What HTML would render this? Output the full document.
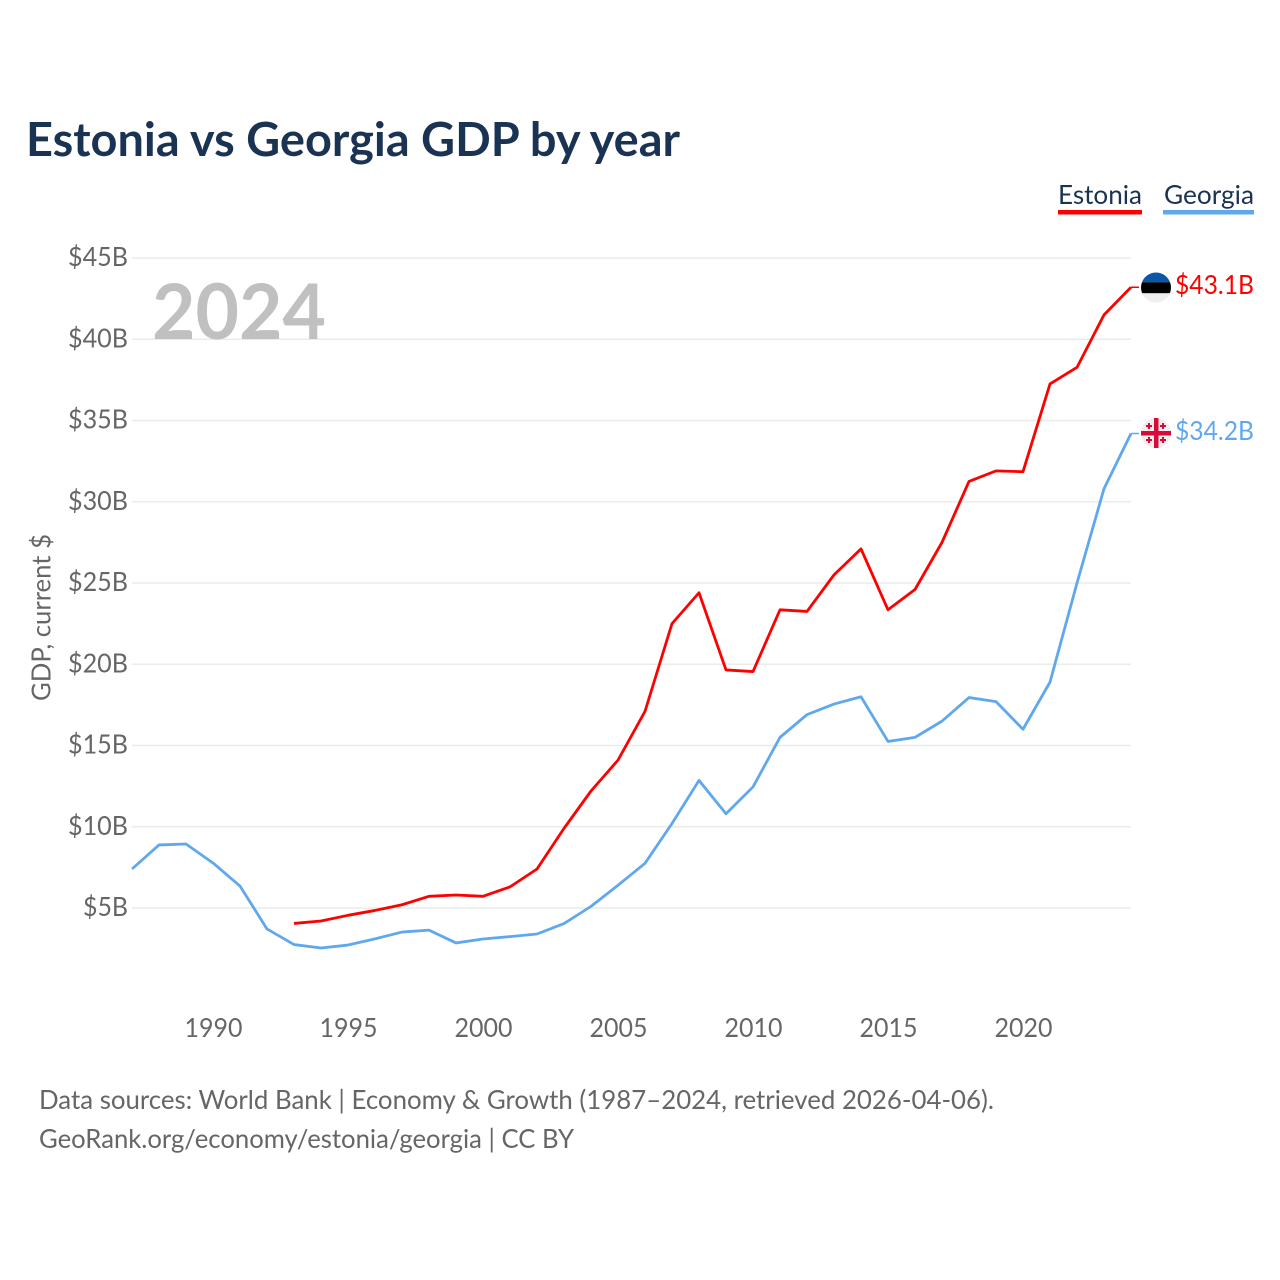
<!DOCTYPE html>
<html>
<head>
<meta charset="utf-8">
<title>Estonia vs Georgia GDP by year</title>
<style>
html,body{margin:0;padding:0;background:#fff}
svg{display:block;font-family:"Lato","Carlito","Liberation Sans",sans-serif}
</style>
</head>
<body>
<svg id="chart" width="1280" height="1280" viewBox="0 0 1280 1280" xmlns="http://www.w3.org/2000/svg">
<rect width="1280" height="1280" fill="#fff"/>
<text x="26" y="156" font-size="47" font-weight="700" fill="#1a3353" textLength="654" lengthAdjust="spacingAndGlyphs">Estonia vs Georgia GDP by year</text>
<g id="grid"></g>
<text x="152" y="339" font-size="77" font-weight="700" fill="#c0c0c0" textLength="174" lengthAdjust="spacingAndGlyphs">2024</text>
<g id="yticks"></g>
<g id="xticks"></g>
<text transform="translate(50.500,701) rotate(-90)" font-size="26" fill="#666" textLength="167" lengthAdjust="spacingAndGlyphs">GDP, current $</text>
<polyline id="line-georgia" fill="none" stroke="#60a8ee" stroke-width="2.8" stroke-linejoin="round"/>
<polyline id="line-estonia" fill="none" stroke="#ff0000" stroke-width="2.8" stroke-linejoin="round"/>
<line id="lead-estonia" stroke="#ff0000" stroke-width="1.5"/>
<line id="lead-georgia" stroke="#60a8ee" stroke-width="1.5"/>

<g>
<clipPath id="clip-ee"><circle cx="1156" cy="287.500" r="15"/></clipPath>
<g clip-path="url(#clip-ee)">
<rect x="1140" y="272" width="32" height="10.300" fill="#0a56a8"/>
<rect x="1140" y="282.300" width="32" height="11" fill="#000"/>
<rect x="1140" y="293.300" width="32" height="10" fill="#eeeeee"/>
</g>
</g>
<g>
<circle cx="1156" cy="433" r="15" fill="#eeeeee"/>
<rect x="1154" y="418" width="4.500" height="30" fill="#d80a3c"/>
<rect x="1141" y="431" width="30" height="4.500" fill="#d80a3c"/>
<path d="M1149 423v6M1146 426h6M1163 423v6M1160 426h6M1149 437v6M1146 440h6M1163 437v6M1160 440h6" stroke="#d80a3c" stroke-width="2" fill="none"/>
</g>
<text x="1175" y="294" font-size="26" fill="#ff0000" textLength="79" lengthAdjust="spacingAndGlyphs">$43.1B</text>
<text x="1175" y="440" font-size="26" fill="#60a8ee" textLength="79" lengthAdjust="spacingAndGlyphs">$34.2B</text>

<g>
<text x="1058" y="204" font-size="26" fill="#1a3353" textLength="84" lengthAdjust="spacingAndGlyphs">Estonia</text>
<rect x="1058" y="210" width="84" height="4.500" fill="#ff0000"/>
</g>
<g>
<text x="1164" y="204" font-size="26" fill="#1a3353" textLength="90" lengthAdjust="spacingAndGlyphs">Georgia</text>
<rect x="1163" y="210" width="91" height="4.500" fill="#60a8ee"/>
</g>

<text x="39" y="1109" font-size="26.500" fill="#666" textLength="955" lengthAdjust="spacingAndGlyphs">Data sources: World Bank | Economy &amp; Growth (1987–2024, retrieved 2026-04-06).</text>
<text x="39" y="1148" font-size="26.500" fill="#666" textLength="535" lengthAdjust="spacingAndGlyphs">GeoRank.org/economy/estonia/georgia | CC BY</text>
</svg>
<script>
const georgiaYears = [1987,1988,1989,1990,1991,1992,1993,1994,1995,1996,1997,1998,1999,2000,2001,2002,2003,2004,2005,2006,2007,2008,2009,2010,2011,2012,2013,2014,2015,2016,2017,2018,2019,2020,2021,2022,2023,2024];
const georgiaValues = [7.4,8.88,8.94,7.77,6.35,3.71,2.75,2.54,2.72,3.1,3.52,3.64,2.85,3.09,3.24,3.4,4.04,5.1,6.4,7.75,10.2,12.85,10.8,12.45,15.5,16.9,17.55,18.0,15.25,15.5,16.5,17.95,17.7,16.0,18.9,25.0,30.8,34.2];
const estoniaYears = [1993,1994,1995,1996,1997,1998,1999,2000,2001,2002,2003,2004,2005,2006,2007,2008,2009,2010,2011,2012,2013,2014,2015,2016,2017,2018,2019,2020,2021,2022,2023,2024];
const estoniaValues = [4.05,4.2,4.55,4.85,5.2,5.72,5.8,5.72,6.3,7.4,9.9,12.2,14.1,17.1,22.5,24.4,19.65,19.55,23.35,23.25,25.5,27.1,23.35,24.6,27.5,31.25,31.9,31.85,37.25,38.27,41.5,43.2];
const yTickValues = [5,10,15,20,25,30,35,40,45];
const yTickLabels = ['$5B','$10B','$15B','$20B','$25B','$30B','$35B','$40B','$45B'];
const xTickYears = [1990,1995,2000,2005,2010,2015,2020];

const NS = 'http://www.w3.org/2000/svg';
function xScale(year){ return 132 + (year - 1987) * 27; }
function yScale(v){ return 989.25 - v * 16.25; }

const gridGroup = document.getElementById('grid');
const yGroup = document.getElementById('yticks');
const xGroup = document.getElementById('xticks');

yTickValues.forEach(function(v, i){
  const gl = document.createElementNS(NS, 'line');
  
  
  gl.setAttribute('x1', 132);
  gl.setAttribute('x2', 1131);
  gl.setAttribute('y1', yScale(v));
  gl.setAttribute('y2', yScale(v));
  gl.setAttribute('stroke', '#ebebeb');
  gl.setAttribute('stroke-width', '1.5');
  gridGroup.appendChild(gl);
  const t = document.createElementNS(NS, 'text');
  
  
  t.setAttribute('x', 128);
  t.setAttribute('y', yScale(v) + 8);
  t.setAttribute('text-anchor', 'end');
  t.setAttribute('font-size', '26');
  t.setAttribute('fill', '#666');
  t.setAttribute('textLength', yTickLabels[i].length * 15);
  t.setAttribute('lengthAdjust', 'spacingAndGlyphs');
  t.textContent = yTickLabels[i];
  yGroup.appendChild(t);
});

xTickYears.forEach(function(y){
  const t = document.createElementNS(NS, 'text');
  
  
  t.setAttribute('x', xScale(y) + 0.5);
  t.setAttribute('y', 1037);
  t.setAttribute('text-anchor', 'middle');
  t.setAttribute('font-size', '26');
  t.setAttribute('fill', '#666');
  t.setAttribute('textLength', '58');
  t.setAttribute('lengthAdjust', 'spacingAndGlyphs');
  t.textContent = String(y);
  xGroup.appendChild(t);
});

function points(years, values){
  return years.map(function(y, i){ return xScale(y) + ',' + yScale(values[i]); }).join(' ');
}
document.getElementById('line-georgia').setAttribute('points', points(georgiaYears, georgiaValues));
document.getElementById('line-estonia').setAttribute('points', points(estoniaYears, estoniaValues));

function leader(id, value){
  const l = document.getElementById(id);
  l.setAttribute('x1', xScale(2024));
  l.setAttribute('x2', xScale(2024) + 8);
  l.setAttribute('y1', yScale(value));
  l.setAttribute('y2', yScale(value));
}
leader('lead-estonia', estoniaValues[estoniaValues.length - 1]);
leader('lead-georgia', georgiaValues[georgiaValues.length - 1]);
</script>
</body>
</html>
